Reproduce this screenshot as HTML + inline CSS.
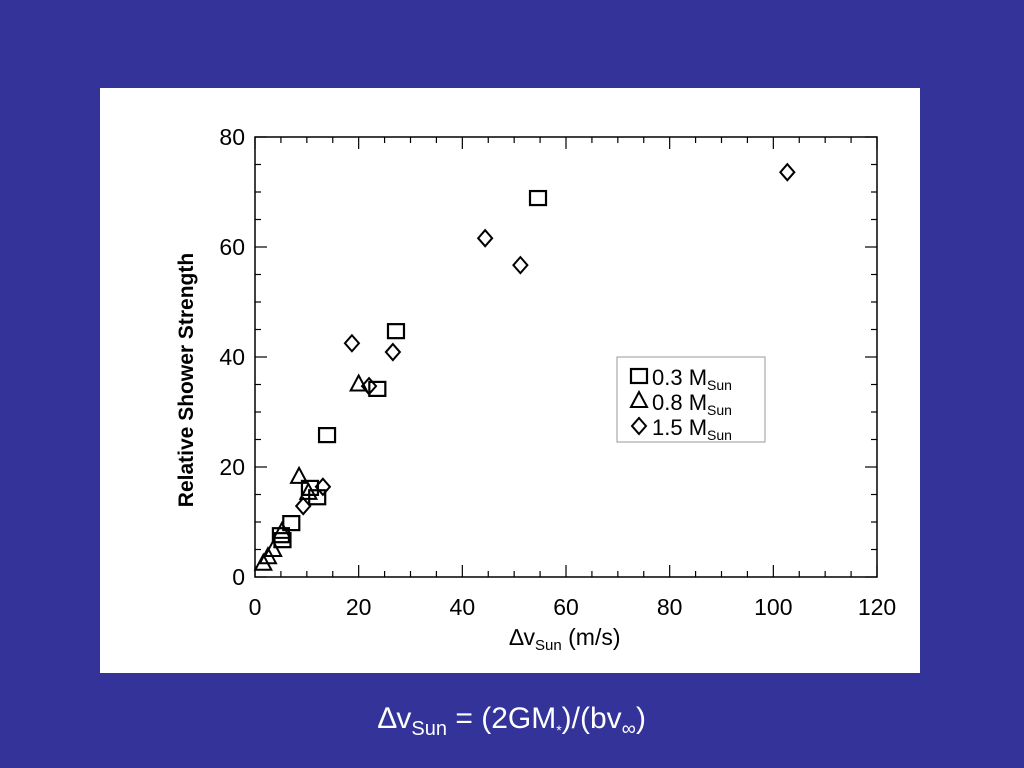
<!DOCTYPE html>
<html><head><meta charset="utf-8"><style>
body{margin:0;width:1024px;height:768px;background:#333399;overflow:hidden;font-family:"Liberation Sans",sans-serif}
#panel{position:absolute;left:100px;top:88px;width:820px;height:585px;background:#fff}
#cap{position:absolute;left:0;width:1024px;top:702px;text-align:center;color:#fff;font-size:30px}
</style></head><body>
<div id="panel"></div>
<svg id="chart" width="1024" height="768" style="position:absolute;left:0;top:0"></svg>
<div id="cap">∆v<sub style="font-size:20px">Sun</sub> = (2GM<sub style="font-size:14px">*</sub>)/(bv<sub style="font-size:20px">∞</sub>)</div>
<script>
const xTicks=[0,20,40,60,80,100,120];
const yTicks=[0,20,40,60,80];
const sqX=[54.6,27.2,23.6,13.9,10.6,12,7,5,5.3];
const sqY=[68.9,44.7,34.2,25.8,16.2,14.5,9.8,7.6,6.7];
const triX=[20,8.5,10.3,5.2,3.5,2.5,1.6];
const triY=[35,18.2,15.3,8.2,4.9,3.6,2.4];
const diaX=[102.7,44.4,51.2,18.7,26.6,22,13.1,9.3];
const diaY=[73.6,61.6,56.7,42.5,40.9,34.7,16.4,12.9];
const L=255,R=877,T=137,B=577;
const sx=v=>L+(v/120)*(R-L), sy=v=>B-(v/80)*(B-T);
const svg=document.getElementById('chart');const NS='http://www.w3.org/2000/svg';
function mk(t,a,parent){const e=document.createElementNS(NS,t);for(const k in a)e.setAttribute(k,a[k]);(parent||svg).appendChild(e);return e;}
const frame=mk('rect',{x:L,y:T,width:R-L,height:B-T,fill:'none',stroke:'#000','stroke-width':1.5});


for(let v=0;v<=120;v+=5){const x=sx(v),len=v%20==0?12:6;
 mk('line',{x1:x,y1:B,x2:x,y2:B-len,stroke:'#000','stroke-width':1.2});
 mk('line',{x1:x,y1:T,x2:x,y2:T+len,stroke:'#000','stroke-width':1.2});}
for(let v=0;v<=80;v+=5){const y=sy(v),len=v%20==0?12:6;
 mk('line',{x1:L,y1:y,x2:L+len,y2:y,stroke:'#000','stroke-width':1.2});
 mk('line',{x1:R,y1:y,x2:R-len,y2:y,stroke:'#000','stroke-width':1.2});}
xTicks.forEach(v=>{const t=mk('text',{x:sx(v),y:B+38,'text-anchor':'middle','font-size':23});t.textContent=v;
 
 });
yTicks.forEach(v=>{const t=mk('text',{x:L-10,y:sy(v)+8,'text-anchor':'end','font-size':23});t.textContent=v;
 
 });
const xt=mk('text',{x:565,y:645,'text-anchor':'middle','font-size':23});
xt.innerHTML='∆v<tspan font-size="15" dy="5">Sun</tspan><tspan dy="-5"> (m/s)</tspan>';


const yt=mk('text',{x:0,y:0,'text-anchor':'middle','font-size':21,'font-weight':'bold',transform:'translate(193,380) rotate(-90)'});
yt.textContent='Relative Shower Strength';


function square(x,y,g){return mk('rect',{x:x-8,y:y-7,width:16,height:14,fill:'none',stroke:'#000','stroke-width':2.2},g);}
function tri(x,y,g){return mk('polygon',{points:`${x},${y-9} ${x-8},${y+6} ${x+8},${y+6}`,fill:'none',stroke:'#000','stroke-width':2},g);}
function dia(x,y,g){return mk('polygon',{points:`${x},${y-8} ${x+7},${y} ${x},${y+8} ${x-7},${y}`,fill:'none',stroke:'#000','stroke-width':2},g);}
sqX.forEach((v,i)=>{const e=square(sx(v),sy(sqY[i]));
 
 });
triX.forEach((v,i)=>{const e=tri(sx(v),sy(triY[i]));
 
 });
diaX.forEach((v,i)=>{const e=dia(sx(v),sy(diaY[i]));
 
 });
const lg=mk('g',{});


mk('rect',{x:617,y:357,width:148,height:85,fill:'#fff',stroke:'#999','stroke-width':1},lg);
const labels=['0.3','0.8','1.5'];const fns=[square,tri,dia];
labels.forEach((l,i)=>{const y=376+i*25;fns[i](639,y,lg);
 const t=mk('text',{x:652,y:y+9,'font-size':22},lg);
 t.innerHTML=l+'  M<tspan font-size="14" dy="5">Sun</tspan>';
 
 });
</script>
</body></html>
